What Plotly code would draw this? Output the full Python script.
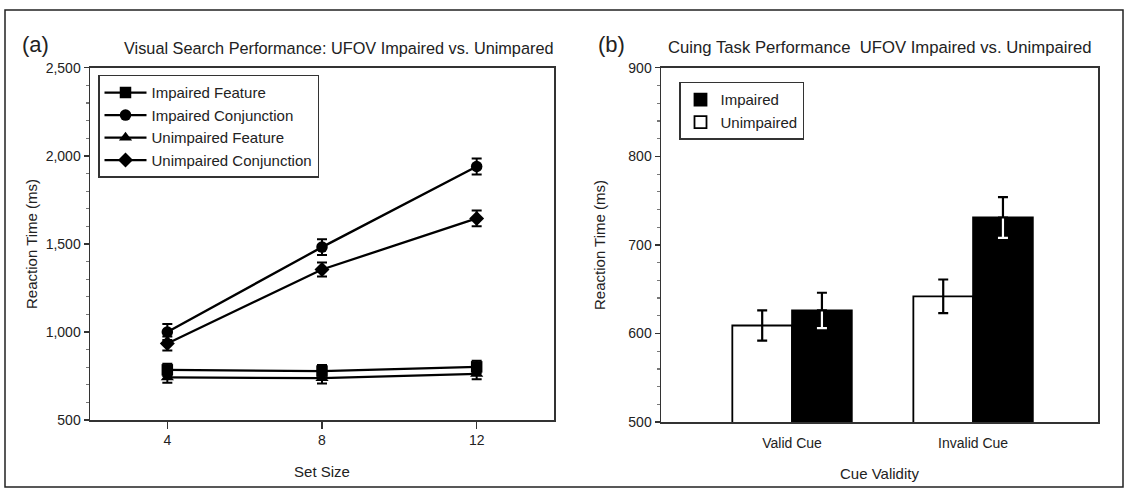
import plotly.graph_objects as go

W, H = 1128, 496

# ---- Panel (a) data ----
set_sizes = [4, 8, 12]
series_names = ["Impaired Feature", "Impaired Conjunction", "Unimpaired Feature", "Unimpaired Conjunction"]
impaired_feature = [785, 778, 802]
impaired_conjunction = [1000, 1482, 1940]
unimpaired_feature = [742, 738, 762]
unimpaired_conjunction = [935, 1355, 1645]
err_impaired_feature = [35, 35, 35]
err_impaired_conjunction = [45, 45, 45]
err_unimpaired_feature = [30, 30, 30]
err_unimpaired_conjunction = [40, 40, 45]
symbols = ["square", "circle", "triangle-up", "diamond"]

# ---- Panel (b) data ----
cue_labels = ["Valid Cue", "Invalid Cue"]
cue_pos = [0, 1]
unimpaired_rt = [609, 642]
impaired_rt = [626, 731]
err_unimpaired_rt = [17, 19]
err_impaired_rt = [20, 23]

y_ticks_a = [500, 1000, 1500, 2000, 2500]
y_ticks_b = [500, 600, 700, 800, 900]

FONT = "Liberation Sans, Arial, Helvetica, sans-serif"
TXT = "#222222"

# calibration of the capture (slight vertical squash observed)
VS, VO = 0.97, 8.0

def px_x(p):
    return p / W

def px_y(p):
    return 1 - ((p - VO) / VS) / H

fig = go.Figure()

vals = [impaired_feature, impaired_conjunction, unimpaired_feature, unimpaired_conjunction]
errs = [err_impaired_feature, err_impaired_conjunction, err_unimpaired_feature, err_unimpaired_conjunction]
for name, v, e, sym in zip(series_names, vals, errs, symbols):
    fig.add_trace(go.Scatter(
        x=set_sizes, y=v, name=name, mode="lines+markers",
        line=dict(color="black", width=2.3),
        marker=dict(symbol=sym, size=11.5, color="black"),
        error_y=dict(type="data", array=e, color="black", thickness=2, width=5),
        xaxis="x", yaxis="y", legend="legend", legendgroup=name,
    ))

# Panel (b) bars
fig.add_trace(go.Bar(
    x=cue_pos, y=unimpaired_rt, name="Unimpaired",
    offset=-0.33, width=0.33,
    marker=dict(color="white", line=dict(color="black", width=1.8)),
    error_y=dict(type="data", array=err_unimpaired_rt, color="black", thickness=2.2, width=5),
    xaxis="x2", yaxis="y2", legend="legend2", legendrank=2,
))
fig.add_trace(go.Bar(
    x=cue_pos, y=impaired_rt, name="Impaired",
    offset=0, width=0.33,
    marker=dict(color="black", line=dict(color="black", width=1.8)),
    xaxis="x2", yaxis="y2", legend="legend2", legendrank=1,
))
# white error bar inside the black bar
fig.add_trace(go.Bar(
    x=cue_pos, y=impaired_rt, offset=0, width=0.33, showlegend=False,
    marker=dict(color="rgba(0,0,0,0)", line=dict(width=0)),
    error_y=dict(type="data", array=err_impaired_rt, color="white", thickness=2.2, width=5),
    xaxis="x2", yaxis="y2", hoverinfo="skip",
))
# black upper part above the black bar
fig.add_trace(go.Bar(
    x=cue_pos, y=impaired_rt, offset=0, width=0.33, showlegend=False,
    marker=dict(color="rgba(0,0,0,0)", line=dict(width=0)),
    error_y=dict(type="data", symmetric=False, array=err_impaired_rt,
                 arrayminus=[0] * len(impaired_rt), color="black", thickness=2.2, width=5),
    xaxis="x2", yaxis="y2", hoverinfo="skip",
))

axis_common = dict(
    showgrid=False, zeroline=False, showline=True, linecolor="#333", linewidth=1.5,
    mirror=True, ticks="outside", tickcolor="#333", tickwidth=1.2,
    tickfont=dict(family=FONT, size=14, color=TXT),
)

title_font = dict(family=FONT, size=15, color=TXT)

fig.update_layout(
    width=W, height=H,
    margin=dict(l=0, r=0, t=0, b=0),
    paper_bgcolor="white", plot_bgcolor="white",
    barmode="overlay", hovermode=False,
    font=dict(family=FONT, color=TXT),
    xaxis=dict(
        axis_common, domain=[px_x(90), px_x(554)], range=[2, 14],
        tickvals=set_sizes, ticklen=7, ticklabelstandoff=0, anchor="y",
        title=dict(text="Set Size", font=title_font, standoff=19),
    ),
    yaxis=dict(
        axis_common, domain=[px_y(421), px_y(68)], range=[500, 2500],
        tickvals=y_ticks_a, tickformat=",d", ticklen=5, anchor="x",
        minor=dict(dtick=100, ticks="outside", ticklen=3, tickcolor="#777"),
        title=dict(text="Reaction Time (ms)", font=title_font, standoff=4),
    ),
    xaxis2=dict(
        axis_common, domain=[px_x(661), px_x(1098)], range=[-0.724, 1.69],
        tickvals=cue_pos, ticktext=cue_labels, ticks="", ticklabelstandoff=8, anchor="y2",
        title=dict(text="Cue Validity", font=title_font, standoff=18),
    ),
    yaxis2=dict(
        axis_common, domain=[px_y(423), px_y(68)], range=[500, 900],
        tickvals=y_ticks_b, ticklen=5, anchor="x2",
        minor=dict(dtick=20, ticks="outside", ticklen=3, tickcolor="#777"),
        title=dict(text="Reaction Time (ms)", font=title_font, standoff=19),
    ),
    legend=dict(
        x=px_x(98), y=px_y(75), xanchor="left", yanchor="top",
        bordercolor="#333", borderwidth=1.5, bgcolor="white",
        font=dict(family=FONT, size=15, color=TXT),
        traceorder="grouped", tracegroupgap=0, itemwidth=42,
    ),
    legend2=dict(
        x=px_x(679), y=px_y(82), xanchor="left", yanchor="top",
        bordercolor="#333", borderwidth=1.5, bgcolor="white",
        font=dict(family=FONT, size=15, color=TXT),
        traceorder="normal", itemwidth=30,
    ),
    annotations=[
        dict(text="(a)", x=px_x(20), y=px_y(45), xref="paper", yref="paper",
             xanchor="left", yanchor="middle", showarrow=False,
             font=dict(family=FONT, size=22, color=TXT)),
        dict(text="Visual Search Performance: UFOV Impaired vs. Unimpared",
             x=px_x(122), y=px_y(48), xref="paper", yref="paper",
             xanchor="left", yanchor="middle", showarrow=False,
             font=dict(family=FONT, size=16.3, color=TXT)),
        dict(text="(b)", x=px_x(596), y=px_y(45), xref="paper", yref="paper",
             xanchor="left", yanchor="middle", showarrow=False,
             font=dict(family=FONT, size=22, color=TXT)),
        dict(text="Cuing Task Performance\u00a0 UFOV Impaired vs. Unimpaired",
             x=px_x(666), y=px_y(48), xref="paper", yref="paper",
             xanchor="left", yanchor="middle", showarrow=False,
             font=dict(family=FONT, size=16.7, color=TXT)),
    ],
    shapes=[
        dict(type="rect", xref="paper", yref="paper",
             x0=px_x(5), x1=px_x(1123), y0=max(px_y(490), 0.002), y1=px_y(10),
             line=dict(color="#222", width=1.5), fillcolor="rgba(0,0,0,0)", layer="below"),
    ],
)

# remove the page's default body margin so the figure sits at the page origin
post = ("document.body.style.margin='0';"
        "document.documentElement.style.overflow='hidden';"
        "var gd=document.getElementById('{plot_id}');"
        "gd.style.position='absolute';gd.style.left='0px';gd.style.top='0px';")

fig.write_html("out.html", post_script=post, config={"displayModeBar": False, "staticPlot": True})
